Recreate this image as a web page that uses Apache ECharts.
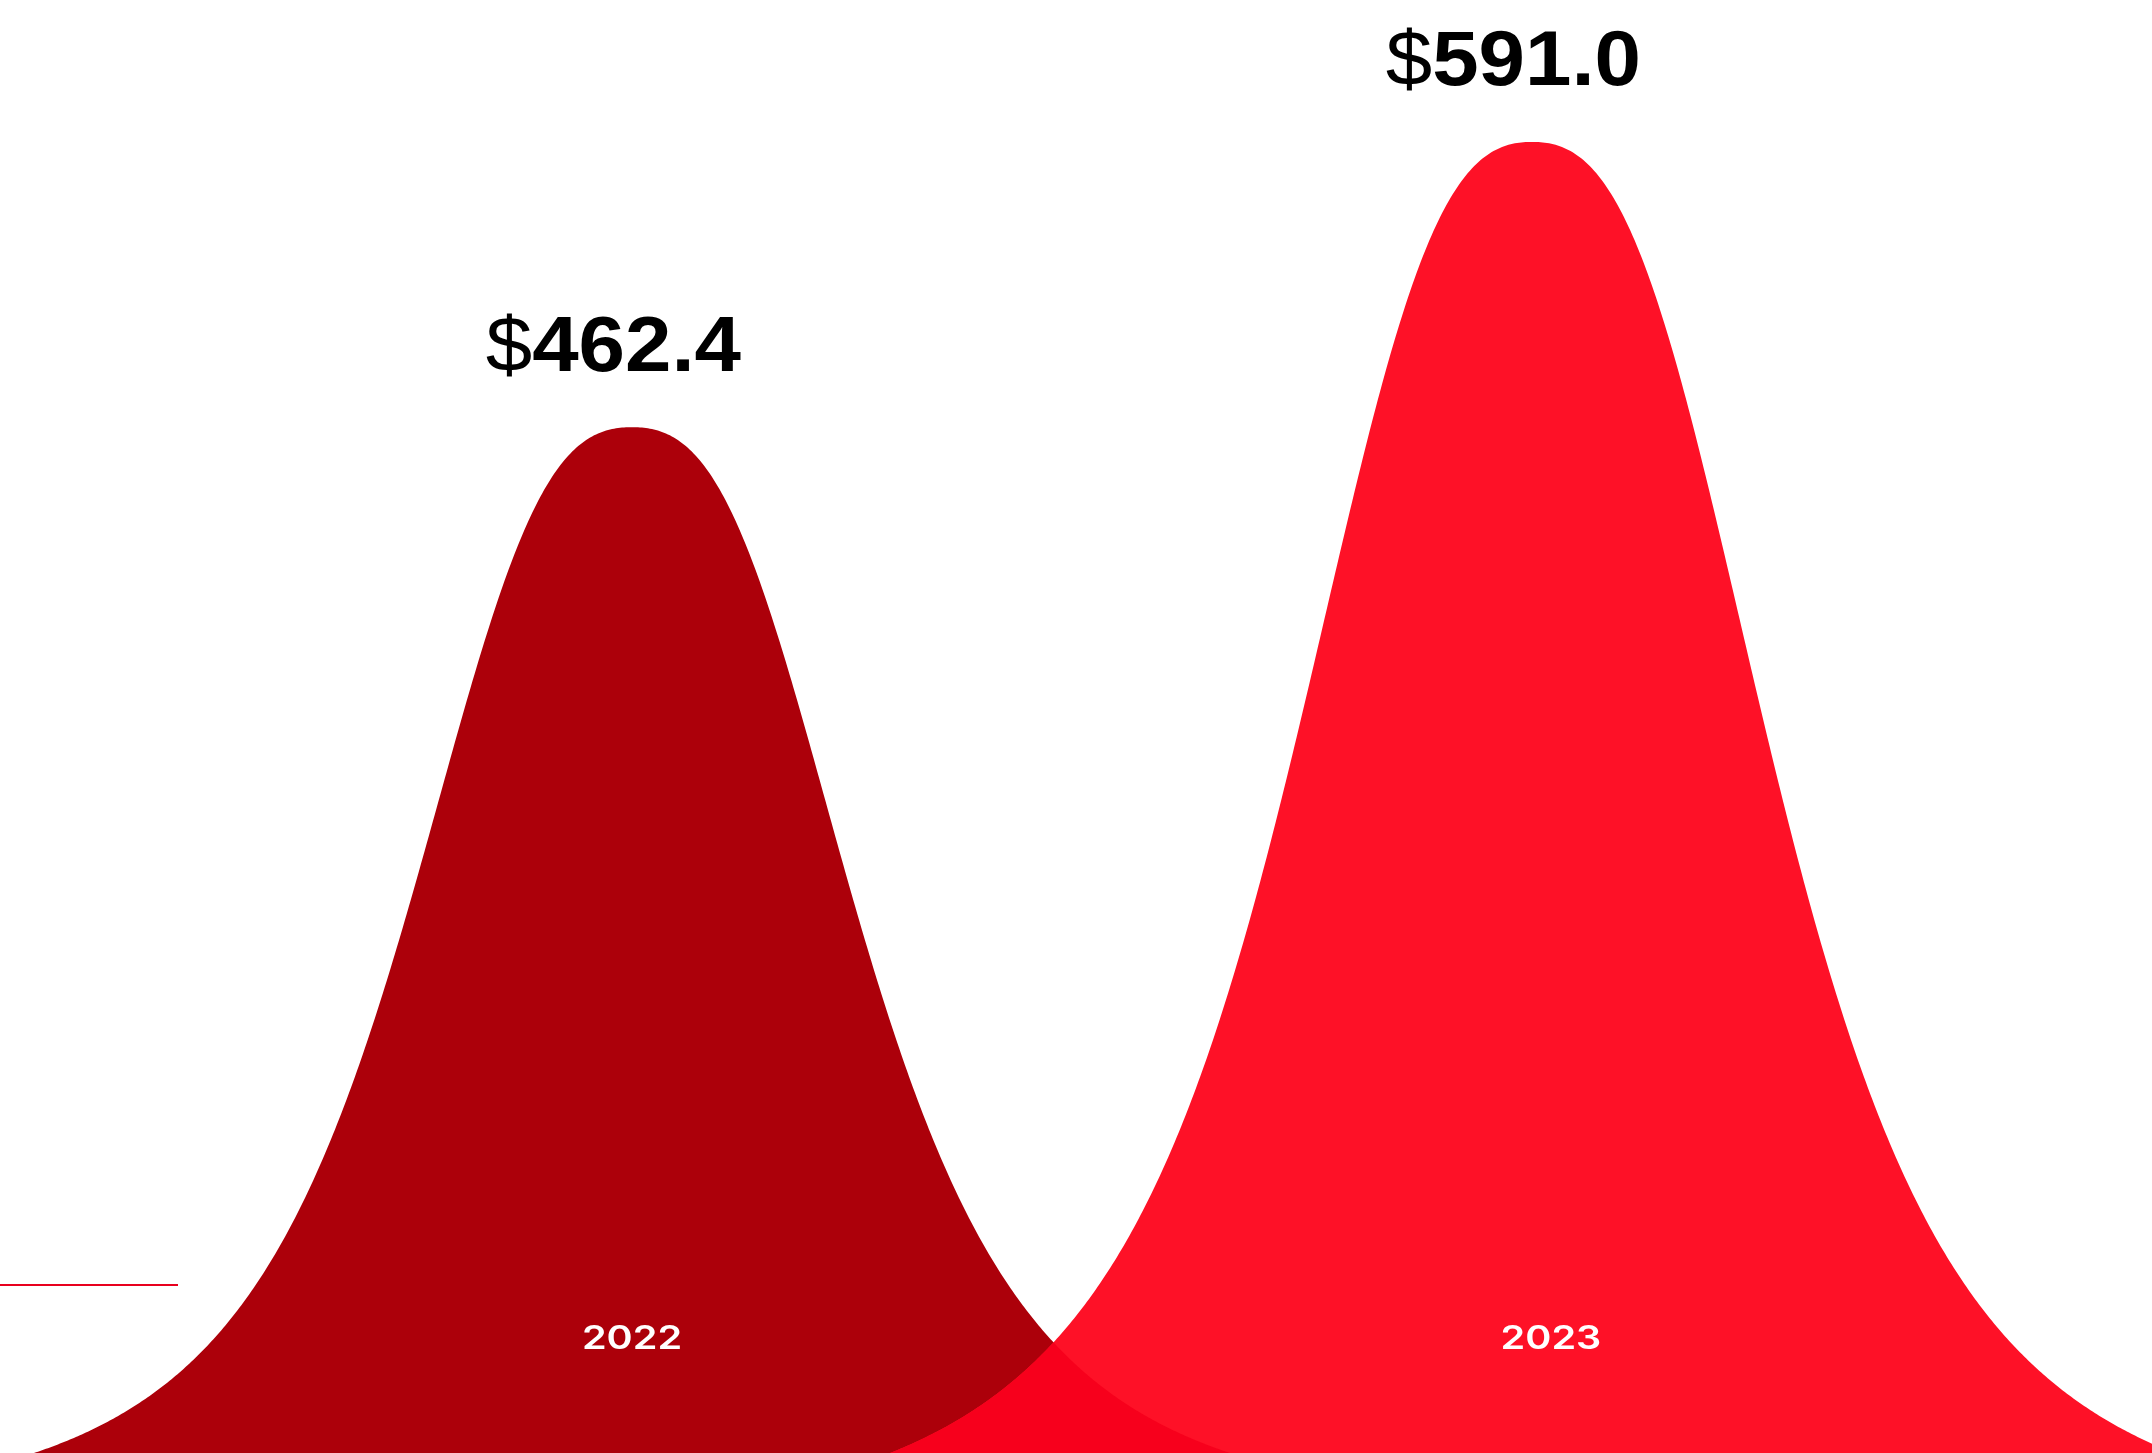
<!DOCTYPE html>
<html>
<head>
<meta charset="utf-8">
<script src="https://cdn.jsdelivr.net/npm/echarts@6/dist/echarts.min.js"></script>
<style>
html,body{margin:0;padding:0;background:#ffffff;}
#chart{width:2152px;height:1453px;}
</style>
</head>
<body>
<div id="chart"></div>
<script>
// ---- data ----
const categories = ['2022', '2023'];
const values = [462.4, 591.0];
const yTicks = [0, 650];

// ---- bell profile (right half; u = horizontal fraction 0..1, result = height fraction 0..1) ----
const BELL_C2 = 1.2, BELL_C3 = 10.5, BELL_C4 = 3.5;
function rawBell(u) { return 1 / (1 + BELL_C2 * u * u + BELL_C3 * u * u * u + BELL_C4 * u * u * u * u); }
const BELL_END = rawBell(1);
function heightAt(u) {
  u = Math.abs(u);
  if (u >= 1) return 0;
  return (rawBell(u) - BELL_END) / (1 - BELL_END);
}
const PROFILE = (function () {
  const pts = [];
  const N = 300;
  for (let k = 0; k <= N; k++) { const u = k / N; pts.push([u, heightAt(u)]); }
  return pts;
})();

const VMAX = Math.max.apply(null, values);
const COLORS = ['#AC000A', '#FE1127'];
const OVERLAP = '#F7001C';

const chart = echarts.init(document.getElementById('chart'), null, {renderer: 'canvas'});

function renderItem(params, api) {
  const i = api.value(0);
  const v = api.value(1);
  const band = api.size([1, 0])[0];
  function geom(idx, val) {
    const top = api.coord([idx, val]);
    const base = api.coord([idx, 0]);
    const hw = band * (0.4886 + 0.2247 * val / VMAX);
    return {cx: top[0], top: top[1], base: base[1], hw: hw};
  }
  const g = geom(i, v);
  const H = g.base - g.top;
  const pts = [];
  for (let k = PROFILE.length - 1; k >= 0; k--) pts.push([g.cx - PROFILE[k][0] * g.hw, g.base - PROFILE[k][1] * H]);
  for (let k = 1; k < PROFILE.length; k++) pts.push([g.cx + PROFILE[k][0] * g.hw, g.base - PROFILE[k][1] * H]);

  const children = [{
    type: 'polygon', shape: {points: pts}, style: {fill: COLORS[i]}
  }];

  if (i > 0) {
    const g0 = geom(i - 1, values[i - 1]);
    const xL = Math.max(g.cx - g.hw, g0.cx - g0.hw);
    const xR = Math.min(g.cx + g.hw, g0.cx + g0.hw);
    if (xR > xL) {
      const op = [];
      for (let x = xL; x <= xR; x += 1) {
        const h0 = heightAt((x - g0.cx) / g0.hw) * (g0.base - g0.top);
        const h1 = heightAt((x - g.cx) / g.hw) * H;
        op.push([x, g.base - Math.min(h0, h1)]);
      }
      op.push([xR, g.base]);
      op.push([xL, g.base]);
      children.push({type: 'polygon', shape: {points: op}, style: {fill: OVERLAP}});
    }
  }

  // value label
  children.push({
    type: 'text',
    x: g.cx + 109,
    y: g.top - 78,
    scaleX: 1.07,
    style: {
      text: '{d|$}{n|' + v.toFixed(1) + '}',
      align: 'right',
      verticalAlign: 'middle',
      fill: '#000000',
      rich: {
        d: {fontFamily: 'Liberation Sans', fontSize: 78, fontWeight: 'normal', fill: '#000000'},
        n: {fontFamily: 'Liberation Sans', fontSize: 78, fontWeight: 'bold', fill: '#000000'}
      }
    }
  });
  // category label
  children.push({
    type: 'text',
    x: g.cx + (g.hw - 0.6644 * band) * 0.43,
    y: g.base - 114,
    scaleX: 1.2,
    style: {
      text: categories[i],
      align: 'center',
      verticalAlign: 'middle',
      fill: '#ffffff',
      fontFamily: 'Inter',
      fontSize: 33,
      fontWeight: 600
    }
  });
  return {type: 'group', children: children};
}

chart.setOption({
  animation: false,
  backgroundColor: '#ffffff',
  grid: {left: 182, right: 170, top: 11, bottom: 0, containLabel: false},
  xAxis: {
    type: 'category',
    data: categories,
    show: false,
    boundaryGap: true
  },
  yAxis: {
    type: 'value',
    min: yTicks[0],
    max: yTicks[1],
    show: false,
    splitLine: {show: false}
  },
  graphic: [{
    type: 'line',
    shape: {x1: 0, y1: 1285, x2: 178, y2: 1285},
    style: {stroke: '#E8001E', lineWidth: 2}
  }],
  series: [{
    type: 'custom',
    renderItem: renderItem,
    clip: false,
    data: values.map(function (val, idx) { return [idx, val]; })
  }]
});
</script>
</body>
</html>
